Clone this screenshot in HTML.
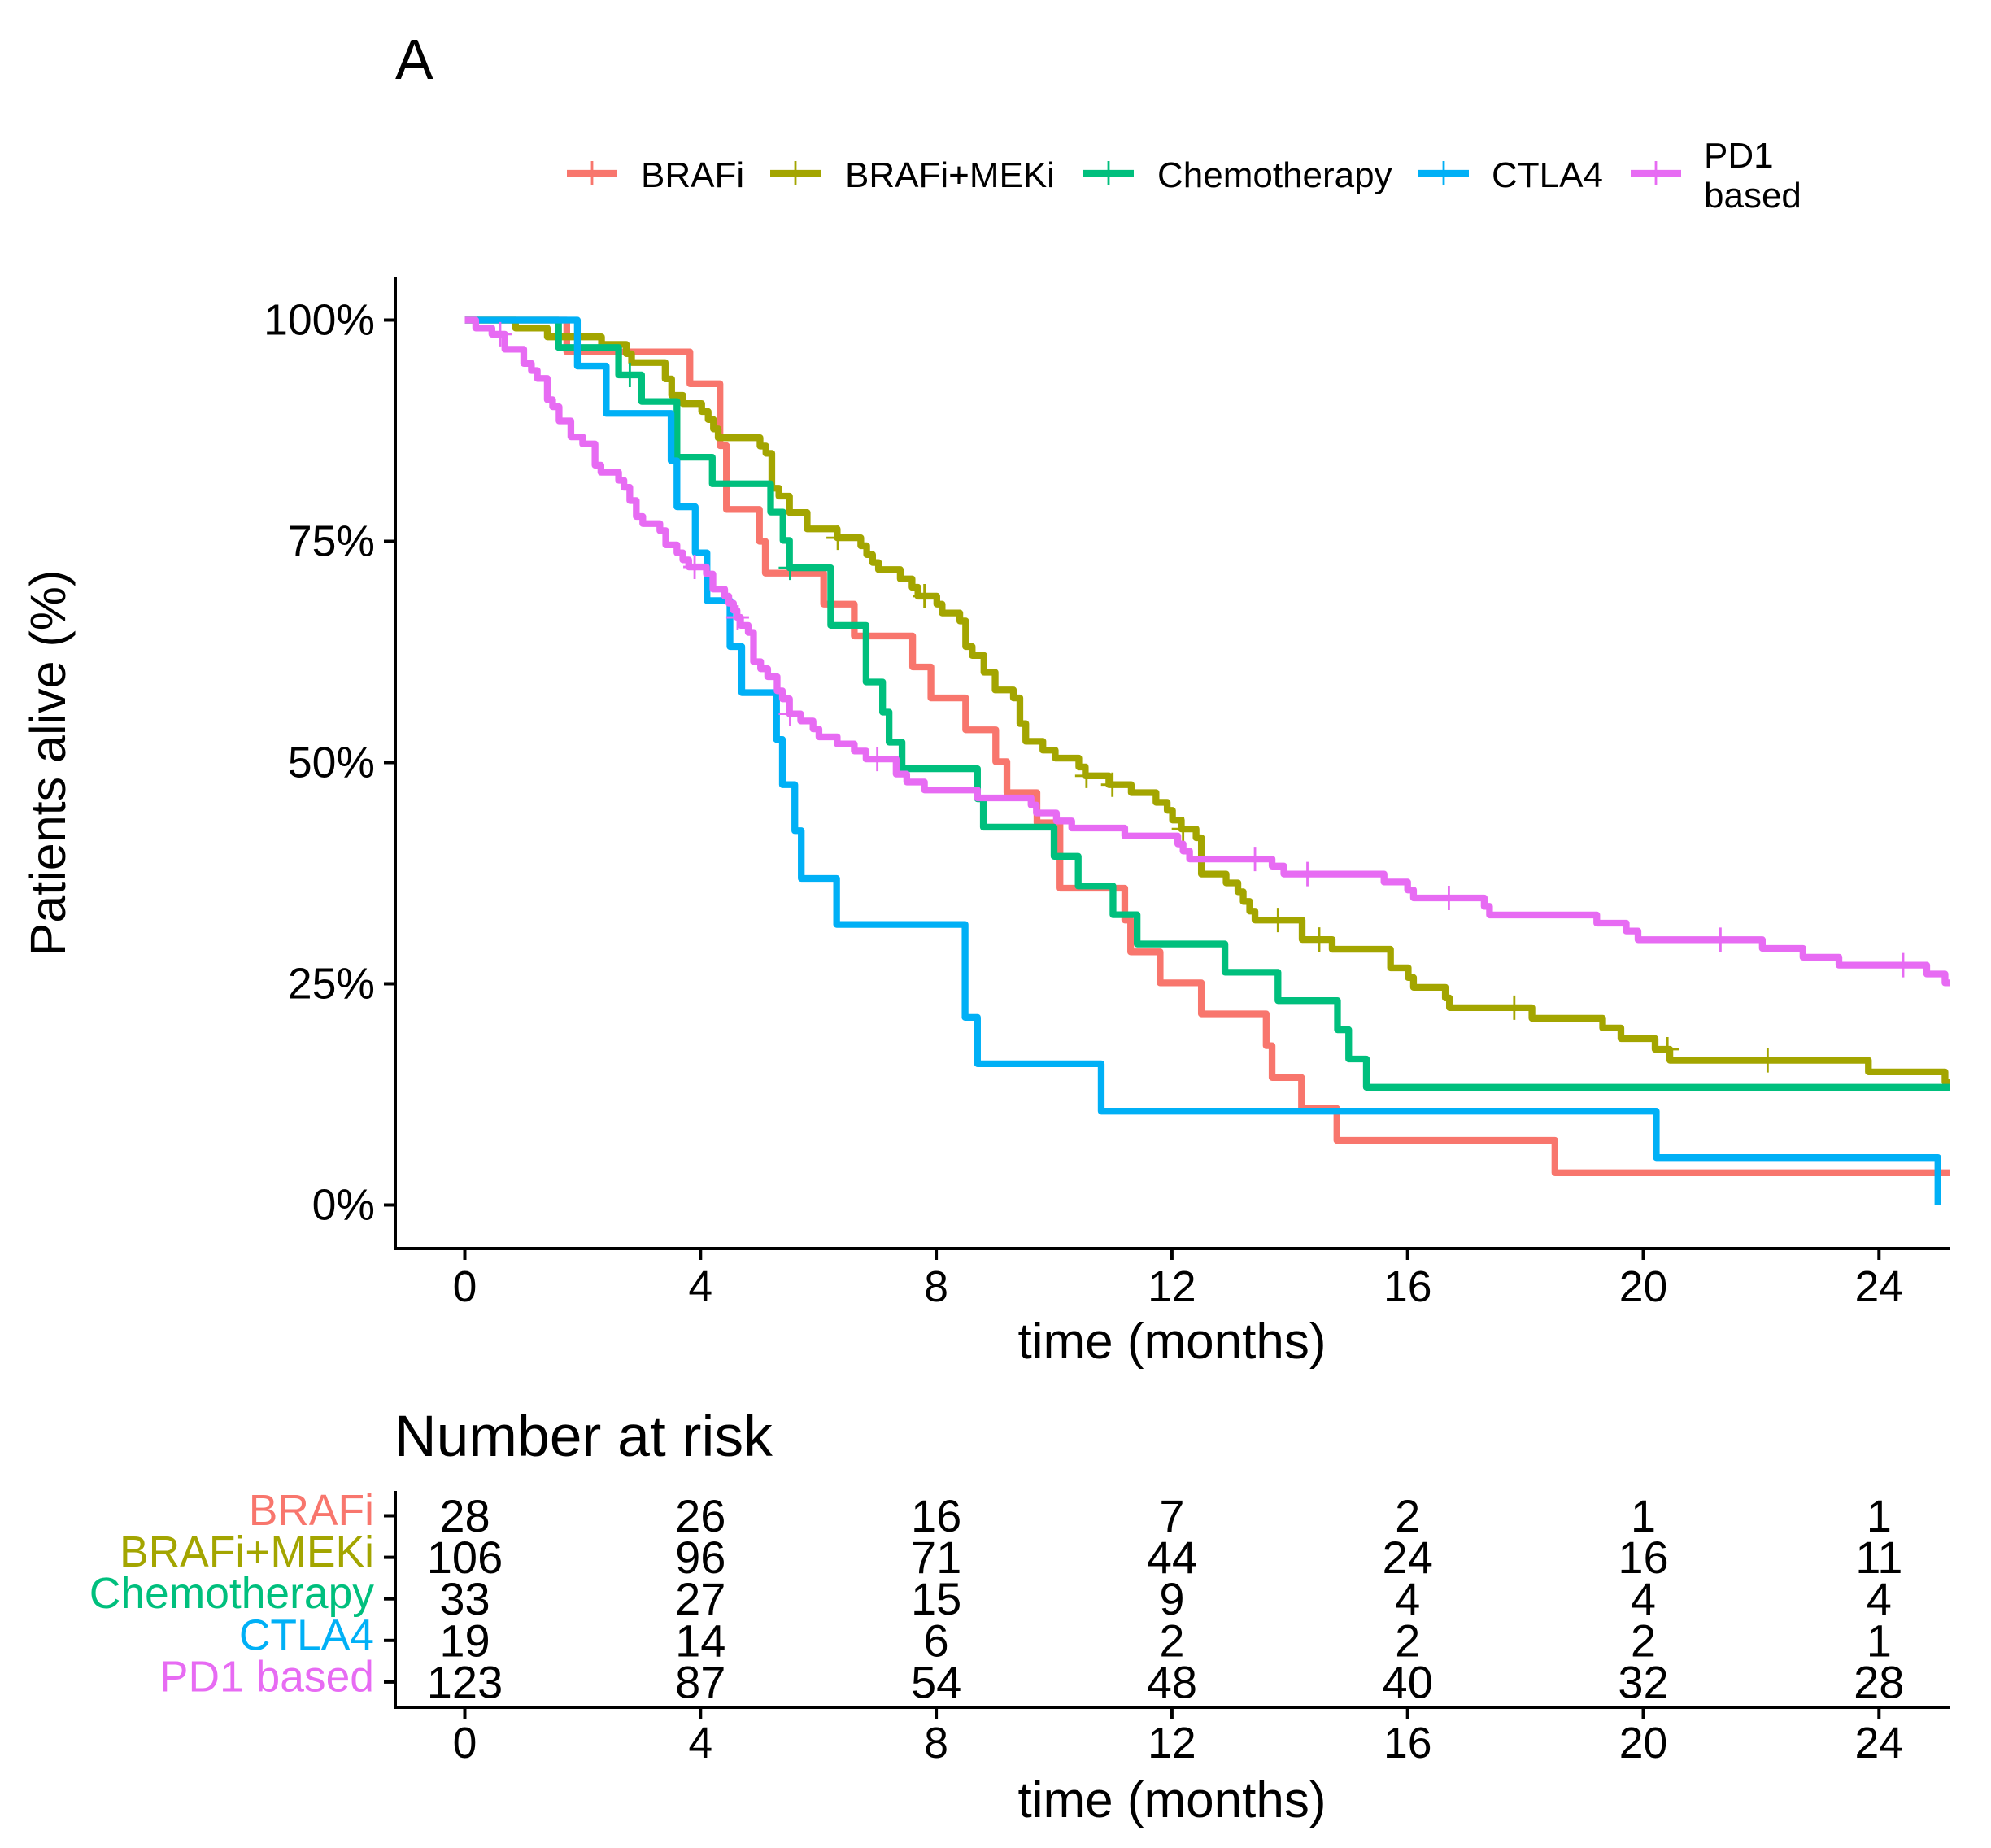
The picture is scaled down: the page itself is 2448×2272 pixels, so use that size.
<!DOCTYPE html>
<html lang="en">
<head>
<meta charset="utf-8">
<title>Kaplan-Meier survival chart</title>
<style>
html,body{margin:0;padding:0;background:#fff;}
svg{display:block;font-family:"Liberation Sans",Arial,sans-serif;}
text{fill:#000;}
</style>
</head>
<body>
<svg id="chart" xmlns="http://www.w3.org/2000/svg" width="2448" height="2272" viewBox="0 0 2448 2272">
<rect x="0" y="0" width="2448" height="2272" fill="#fff"/>
<defs><clipPath id="panel-clip"><rect x="486" y="340" width="1912" height="1195"/></clipPath></defs>
<text x="486" y="97" font-size="70">A</text>
</svg>
<script>
const seriesNames = ["BRAFi","BRAFi+MEKi","Chemotherapy","CTLA4","PD1 based"];
const seriesColors = ["#F8766D","#A3A500","#00BF7D","#00B0F6","#E76BF3"];

const brafiTimes = [1.73,3.82,4.33,4.44,5.0,5.1,6.09,6.61,7.60,7.91,8.50,9.01,9.2,9.71,10.1,11.2,11.3,11.8,12.5,13.6,13.7,14.2,14.8,18.5];
const brafiSurvival = [96.4,92.8,85.8,78.6,75.0,71.4,67.9,64.3,60.8,57.3,53.7,50.1,46.6,43.2,35.8,32.2,28.6,25.1,21.6,18.0,14.4,10.9,7.3,3.65];
const brafiCensor = [];

const mekiTimes = [0.86,1.40,2.32,2.74,2.83,3.40,3.51,3.70,4.02,4.13,4.22,4.30,5.01,5.11,5.21,5.33,5.51,5.81,6.32,6.72,6.82,6.92,7.02,7.39,7.59,7.69,8.01,8.10,8.40,8.50,8.61,8.81,9.0,9.31,9.42,9.52,9.81,10.02,10.42,10.53,10.93,11.31,11.73,11.92,12.01,12.16,12.41,12.5,12.92,13.12,13.21,13.32,13.41,14.21,14.72,15.71,16.01,16.1,16.64,16.71,18.11,19.31,19.62,20.2,20.45,23.82,25.12];
const mekiSurvival = [99.1,98.1,97.25,96.2,95.2,93.35,91.5,90.56,89.66,88.76,87.7,86.7,85.76,84.94,81.0,80.1,78.25,76.4,75.4,74.5,73.5,72.6,71.8,70.75,69.8,68.8,67.9,66.9,66.0,63.1,62.1,60.2,58.2,57.3,54.4,52.4,51.4,50.5,49.5,48.5,47.5,46.6,45.5,44.6,43.5,42.5,41.5,37.4,36.4,35.4,34.3,33.2,32.2,30.0,28.9,26.8,25.7,24.6,23.4,22.3,21.1,20.0,18.8,17.6,16.35,15.04,13.9];
const mekiCensor = [6.33,7.8,10.55,10.99,12.19,13.8,14.5,17.81,20.41,22.11];

const chemoTimes = [1.59,2.61,3.0,3.60,4.2,5.19,5.4,5.51,6.21,6.81,7.09,7.2,7.42,8.70,8.80,10.0,10.41,11.0,11.41,12.9,13.8,14.81,15.0,15.3];
const chemoSurvival = [96.9,93.8,90.8,84.5,81.5,78.3,75.1,72.0,65.5,59.1,55.7,52.3,49.3,45.9,42.7,39.4,36.05,32.8,29.5,26.3,23.1,19.8,16.5,13.3];
const chemoCensor = [2.8,5.52];

const ctlaTimes = [1.91,2.40,3.5,3.6,3.91,4.11,4.5,4.7,5.29,5.39,5.60,5.71,6.31,8.49,8.7,10.8,20.22,25.0];
const ctlaSurvival = [94.8,89.45,84.1,78.9,73.7,68.3,63.1,57.9,52.6,47.5,42.3,36.9,31.7,21.2,15.96,10.6,5.36,0];
const ctlaCensor = [];

const pd1Times = [0.185,0.46,0.68,1.00,1.13,1.23,1.40,1.49,1.60,1.80,2.00,2.21,2.31,2.61,2.70,2.80,2.91,3.02,3.31,3.41,3.60,3.70,3.80,4.10,4.21,4.41,4.48,4.56,4.62,4.68,4.81,4.90,5.02,5.14,5.30,5.39,5.51,5.70,5.91,6.01,6.32,6.61,6.81,7.32,7.50,7.80,8.70,9.61,9.70,10.04,10.30,11.20,12.10,12.19,12.30,13.70,13.90,15.6,16.0,16.1,17.30,17.39,19.21,19.71,19.91,22.02,22.71,23.32,24.81,25.12];
const pd1Survival = [99.1,98.4,96.7,95.1,94.3,93.4,91.0,90.2,88.6,86.8,86.0,83.6,82.8,81.9,81.1,79.6,77.8,77.0,76.2,74.6,73.7,72.9,72.1,71.3,69.6,68.8,68.0,67.2,66.4,65.5,64.7,61.4,60.6,59.7,58.1,57.2,55.5,54.7,53.8,52.9,52.1,51.3,50.4,48.7,47.8,46.9,46.0,45.2,44.3,43.4,42.6,41.7,40.8,40.0,39.1,38.3,37.4,36.5,35.6,34.7,33.75,32.77,31.85,30.96,29.98,29.0,28.0,27.1,26.1,25.1];
const pd1Censor = [0.6,3.9,4.63,5.52,7.0,13.41,14.3,16.7,21.31,24.41];

const seriesTimes = [brafiTimes,mekiTimes,chemoTimes,ctlaTimes,pd1Times];
const seriesSurvival = [brafiSurvival,mekiSurvival,chemoSurvival,ctlaSurvival,pd1Survival];
const seriesCensor = [brafiCensor,mekiCensor,chemoCensor,ctlaCensor,pd1Censor];
const seriesEnd = [25.2,25.2,25.2,25.0,25.2];

const survivalTicks = [0,25,50,75,100];
const timeTicks = [0,4,8,12,16,20,24];
const riskBrafi = [28,26,16,7,2,1,1];
const riskMeki = [106,96,71,44,24,16,11];
const riskChemo = [33,27,15,9,4,4,4];
const riskCtla = [19,14,6,2,2,2,1];
const riskPd1 = [123,87,54,48,40,32,28];
const riskRows = [riskBrafi,riskMeki,riskChemo,riskCtla,riskPd1];

const NS = "http://www.w3.org/2000/svg";
const svg = document.getElementById("chart");
const xScale = t => 571.5 + 72.45 * t;
const yScale = s => 1481.5 - 10.88 * s;
const riskY = i => 1863.5 + 51.1 * i;

function add(parent, tag, attrs, txt) {
  const el = document.createElementNS(NS, tag);
  for (const k in attrs) el.setAttribute(k, attrs[k]);
  if (txt !== undefined) el.textContent = txt;
  parent.appendChild(el);
  return el;
}
function survivalAt(i, t) {
  let s = 100;
  seriesTimes[i].forEach((tt, j) => { if (tt <= t) s = seriesSurvival[i][j]; });
  return s;
}

/* Main panel axes */
const axisMain = add(svg, "g", {});


const yLine = add(axisMain, "line", {x1:486,y1:340,x2:486,y2:1536,stroke:"#000","stroke-width":4});


const xLine = add(axisMain, "line", {x1:484,y1:1535,x2:2398,y2:1535,stroke:"#000","stroke-width":4});



survivalTicks.forEach(v => {
  const tick = add(axisMain, "line", {x1:472,x2:486,y1:yScale(v),y2:yScale(v),stroke:"#000","stroke-width":4});
  
  
  const lab = add(axisMain, "text", {x:461,y:yScale(v)+18,"text-anchor":"end","font-size":53.5}, v + "%");
  
  
});
timeTicks.forEach(v => {
  const tick = add(axisMain, "line", {x1:xScale(v),x2:xScale(v),y1:1535,y2:1549,stroke:"#000","stroke-width":4});
  
  
  const lab = add(axisMain, "text", {x:xScale(v),y:1600,"text-anchor":"middle","font-size":53.5}, String(v));
  
  
});
const xTitle = add(svg, "text", {x:1441,y:1670,"text-anchor":"middle","font-size":62}, "time (months)");


const yTitle = add(svg, "text", {transform:"translate(80 938) rotate(-90)","text-anchor":"middle","font-size":61}, "Patients alive (%)");



/* Curves */
const curves = add(svg, "g", {"clip-path":"url(#panel-clip)"});


seriesNames.forEach((name, i) => {
  let d = "M" + xScale(0) + " " + yScale(100);
  seriesTimes[i].forEach((t, j) => {
    d += "H" + xScale(t) + "V" + yScale(seriesSurvival[i][j]);
  });
  d += "H" + xScale(seriesEnd[i]);
  const path = add(curves, "path", {d:d,fill:"none",stroke:seriesColors[i],"stroke-width":8.3,"stroke-linejoin":"round"});
  
  
  seriesCensor[i].forEach(t => {
    const cx = xScale(t), cy = yScale(survivalAt(i, t));
    const mark = add(curves, "path", {d:"M"+(cx-14)+" "+cy+"H"+(cx+14)+"M"+cx+" "+(cy-15)+"V"+(cy+15),fill:"none",stroke:seriesColors[i],"stroke-width":2.8});
    
    
  });
});

/* Legend */
const legendKeyX = [697,947,1332,1744,2005];
const legendTextX = [788,1039,1423,1834,2095];
const legend = add(svg, "g", {});


seriesNames.forEach((name, i) => {
  const entry = add(legend, "g", {});
  
  
  const kx = legendKeyX[i];
  add(entry, "line", {x1:kx,x2:kx+62,y1:213,y2:213,stroke:seriesColors[i],"stroke-width":8.3});
  add(entry, "line", {x1:kx+31,x2:kx+31,y1:198,y2:228,stroke:seriesColors[i],"stroke-width":2.8});
  if (name === "PD1 based") {
    add(entry, "text", {x:legendTextX[i],y:206,"font-size":44}, "PD1");
    add(entry, "text", {x:legendTextX[i],y:255,"font-size":44}, "based");
  } else {
    add(entry, "text", {x:legendTextX[i],y:230,"font-size":44}, name);
  }
});

/* Risk table */
const riskTitle = add(svg, "text", {x:485,y:1790,"font-size":71.5}, "Number at risk");


const table = add(svg, "g", {});


const ryLine = add(table, "line", {x1:486,y1:1833,x2:486,y2:2100,stroke:"#000","stroke-width":4});


const rxLine = add(table, "line", {x1:484,y1:2099,x2:2398,y2:2099,stroke:"#000","stroke-width":4});


seriesNames.forEach((name, i) => {
  const rt = add(table, "line", {x1:472,x2:486,y1:riskY(i),y2:riskY(i),stroke:"#000","stroke-width":4});
  
  
  const lab = add(table, "text", {x:460,y:riskY(i)+11.5,"text-anchor":"end","font-size":53.4}, name);
  lab.style.fill = seriesColors[i];
  
  
  riskRows[i].forEach((n, j) => {
    const c = add(table, "text", {x:xScale(timeTicks[j]),y:riskY(i)+19.5,"text-anchor":"middle","font-size":56}, String(n));
    
    
  });
});
timeTicks.forEach(v => {
  const tick = add(table, "line", {x1:xScale(v),x2:xScale(v),y1:2099,y2:2113,stroke:"#000","stroke-width":4});
  
  
  const lab = add(table, "text", {x:xScale(v),y:2161,"text-anchor":"middle","font-size":53.5}, String(v));
  
  
});
const rxTitle = add(svg, "text", {x:1441,y:2234,"text-anchor":"middle","font-size":62}, "time (months)");


</script>
</body>
</html>
